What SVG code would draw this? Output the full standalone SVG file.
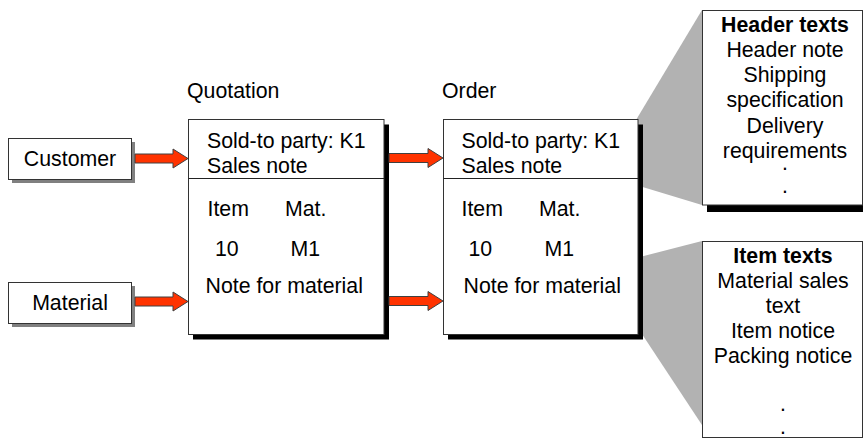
<svg xmlns="http://www.w3.org/2000/svg" width="863" height="438" viewBox="0 0 863 438">
<defs>
<style>
text{font-family:"Liberation Sans",Arial,sans-serif;font-size:21.3px;fill:#000}
.c{text-anchor:middle}
.b{font-weight:bold}
.box{fill:#fff;stroke:#333;stroke-width:1}
.sh{fill:#000}
.gsh{fill:#808080}
.fan{fill:#b2b2b2}
.arr{fill:#ff3300;stroke:#404040;stroke-width:1}
.div{stroke:#222;stroke-width:1}
</style>
</defs>
<rect width="863" height="438" fill="#fff"/>

<g id="fans">
<polygon class="fan" points="636,120 702,10 702,205 636,185"/>
<polygon class="fan" points="636,258 702,241 702,425 636,325"/>
</g>

<g id="customer">
<rect class="gsh" x="12" y="142" width="123" height="41"/>
<rect class="box" x="8.5" y="138.5" width="123" height="41"/>
<text class="c" x="70" y="166">Customer</text>
</g>

<g id="material">
<rect class="gsh" x="12" y="286" width="123" height="41"/>
<rect class="box" x="8.5" y="282.5" width="123" height="41"/>
<text class="c" x="70" y="310">Material</text>
</g>

<g id="quotation">
<text x="187" y="98">Quotation</text>
<rect class="sh" x="193" y="124.5" width="196" height="215"/>
<rect class="box" x="188.5" y="119.5" width="195.5" height="215"/>
<line class="div" x1="188.5" y1="178.5" x2="384" y2="178.5"/>
<text x="207" y="148">Sold-to party: K1</text>
<text x="207" y="173">Sales note</text>
<text x="207.5" y="216">Item</text>
<text x="285" y="216">Mat.</text>
<text x="215" y="256">10</text>
<text x="290.5" y="256">M1</text>
<text x="205.5" y="293">Note for material</text>
</g>

<g id="order">
<text x="442" y="98">Order</text>
<rect class="sh" x="448" y="124.5" width="195" height="215"/>
<rect class="box" x="443.5" y="119.5" width="194.5" height="215"/>
<line class="div" x1="443.5" y1="178.5" x2="638" y2="178.5"/>
<text x="461.5" y="148">Sold-to party: K1</text>
<text x="461.5" y="173">Sales note</text>
<text x="461.5" y="216">Item</text>
<text x="539" y="216">Mat.</text>
<text x="468.5" y="256">10</text>
<text x="544.5" y="256">M1</text>
<text x="463.5" y="293">Note for material</text>
</g>

<g id="header-texts">
<rect class="sh" x="707" y="15" width="160" height="197"/>
<rect class="box" x="702.5" y="10.5" width="160" height="194.5"/>
<text class="c b" x="785" y="32">Header texts</text>
<text class="c" x="785" y="57">Header note</text>
<text class="c" x="785" y="82">Shipping</text>
<text class="c" x="785" y="107">specification</text>
<text class="c" x="785" y="133">Delivery</text>
<text class="c" x="785" y="158">requirements</text>
<text class="c" x="785" y="170">.</text>
<text class="c" x="785" y="193">.</text>
</g>

<g id="item-texts">
<rect class="sh" x="707" y="246" width="160" height="200"/>
<rect class="box" x="702.5" y="241.5" width="160" height="196"/>
<text class="c b" x="783" y="263">Item texts</text>
<text class="c" x="783" y="288">Material sales</text>
<text class="c" x="783" y="313">text</text>
<text class="c" x="783" y="338">Item notice</text>
<text class="c" x="783" y="363">Packing notice</text>
<text class="c" x="783" y="411">.</text>
<text class="c" x="783" y="434">.</text>
</g>

<g id="connectors">
<path class="arr" d="M135,154 H173 V149 L188,158.5 L173,168 V163 H135 Z"/>
<path class="arr" d="M135,297 H173 V292 L188,301.5 L173,311 V306 H135 Z"/>
<path class="arr" d="M389,153.5 H428 V148.5 L443,158 L428,167.5 V162.5 H389 Z"/>
<path class="arr" d="M389,296.5 H428 V291.5 L443,301 L428,310.5 V305.5 H389 Z"/>
</g>
</svg>
